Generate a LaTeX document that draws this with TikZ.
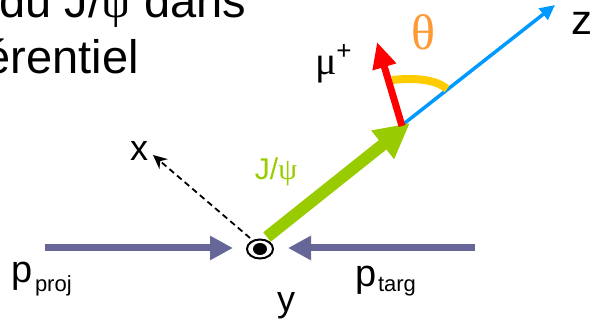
\documentclass[tikz,border=0pt]{standalone}
\usepackage{fontspec}
\setmainfont{Liberation Sans}
\newfontfamily\grk{Liberation Serif}
\usetikzlibrary{arrows.meta}
\definecolor{cpurple}{HTML}{666699}
\definecolor{cgreen}{HTML}{99CC00}
\definecolor{cred}{HTML}{FF0000}
\definecolor{cblue}{HTML}{0099FF}
\definecolor{cyel}{HTML}{FFCC00}
\definecolor{corange}{HTML}{FF9933}
\newcommand{\fs}[1]{\fontsize{#1}{#1}\selectfont}
\tikzset{
  beam/.style={draw=cpurple, line width=7pt, -{Triangle[length=23pt,width=23pt]}},
  jpsi/.style={draw=cgreen, line width=12pt, -{Triangle[length=35pt,width=34pt]}},
  muon/.style={draw=cred, line width=7pt, -{Triangle[length=26pt,width=23pt]}},
  zaxis/.style={draw=cblue, line width=3.5pt, -{Triangle[length=15pt,width=14pt]}},
  xaxis/.style={draw=black, line width=1.8pt, dash pattern=on 6pt off 4pt, -{Stealth[length=14pt,width=13pt]}},
  anglearc/.style={draw=cyel, line width=8pt},
  lbl/.style={inner sep=0pt, outer sep=0pt},
}
\begin{document}
\begin{tikzpicture}[x=1pt,y=-1pt]
\useasboundingbox (0,0) rectangle (590,320);
% title fragment (cut off)
\node[lbl, anchor=base east] (t1) at (246,18) {\fs{47}du J/{\grk ψ} dans};
\node[lbl, anchor=base east] (t2) at (139,74) {\fs{47}érentiel};
% coordinates
\coordinate (O) at (260,249);
\coordinate (Lstart) at (45,248);
\coordinate (Lend) at (233,248);
\coordinate (Rstart) at (475,248);
\coordinate (Rend) at (288,248);
\coordinate (Jstart) at (267,237);
\coordinate (Jend) at (410,123);
\coordinate (Zstart) at (345,170);
\coordinate (Zend) at (555,5);
\coordinate (Mstart) at (402,126);
\coordinate (Mend) at (377,42);
\coordinate (Xstart) at (250,238);
\coordinate (Xend) at (153,155);
\coordinate (arcA) at (392,80);
\coordinate (arcB) at (447,89);
% beams
\draw[beam] (Lstart) -- (Lend);
\draw[beam] (Rstart) -- (Rend);
% y axis (out of page)
\draw[black, line width=2pt] (O) ellipse [x radius=13pt, y radius=9.5pt];
\fill[black] (O) ellipse [x radius=7pt, y radius=6pt];
% x axis
\draw[xaxis] (Xstart) -- (Xend);
% z axis
\draw[zaxis] (Zstart) -- (Zend);
% angle arc
\draw[anglearc] (arcA) .. controls (420,77) and (438,81) .. (arcB);
% J/psi
\draw[jpsi] (Jstart) -- (Jend);
% muon
\draw[muon] (Mstart) -- (Mend);
% labels
\node[lbl] (xl) at (139,151) {\fs{36}x};
\node[lbl, anchor=base] (yl) at (286,312) {\fs{36}y};
\node[lbl, anchor=base west] (zl) at (571,35) {\fs{42}z};
\node[lbl, text=cgreen] (jl) at (276,172) {\fs{30}J/{\grk ψ}};
\node[lbl, anchor=base west] (mul) at (315,75) {\fs{40}{\grk μ}\raisebox{15pt}{\fs{26}+}};
\node[lbl, text=corange] (th) at (423,32) {\fs{50}\grk θ};
\node[lbl, anchor=base west] (pp) at (12,283) {\fs{38}p};
\node[lbl, anchor=base west] (ppsub) at (35,292) {\fs{22}proj};
\node[lbl, anchor=base west] (pt) at (355,287) {\fs{38}p};
\node[lbl, anchor=base west] (ptsub) at (378,292) {\fs{22}targ};
\end{tikzpicture}
\end{document}
